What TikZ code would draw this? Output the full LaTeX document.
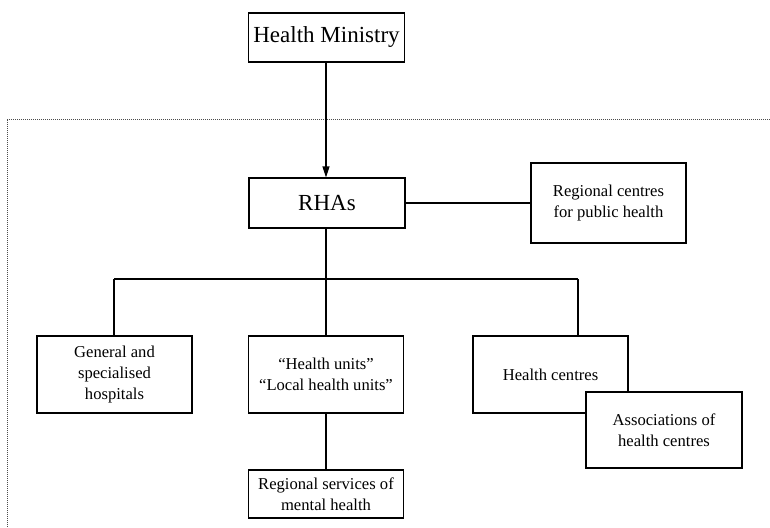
\documentclass[tikz,border=0pt]{standalone}
\usepackage{fontspec}
\setmainfont{Liberation Serif}
\usetikzlibrary{arrows.meta}
\begin{document}
\begin{tikzpicture}[x=1pt,y=-1pt,
  bigbox/.style={draw,line width=1.1pt,fill=white,minimum width=156pt,inner sep=0pt,font=\fontsize{23}{26}\selectfont},
  smallbox/.style={draw,line width=1.1pt,fill=white,minimum width=155pt,inner sep=0pt,align=center,font=\fontsize{16.6}{21}\selectfont},
  link/.style={line width=1.1pt},
  frameline/.style={line width=0.6pt,dash pattern=on 1.2pt off 0.8pt,black!70}]
\path[use as bounding box] (0,0) rectangle (770,527);
% frame (dotted)
\coordinate (fl) at (7,119);
\coordinate (fr) at (770,119);
\coordinate (fb) at (7,527);
\draw[frameline] (fr) -- (fl) -- (fb);
% nodes
\node[bigbox,minimum height=49pt] (hm) at (326.5,37.5) {Health Ministry};
\node[bigbox,minimum height=50pt] (rhas) at (327,203) {RHAs};
\node[smallbox,minimum height=80pt] (rc) at (608.5,203) {Regional centres\\for public health};
\node[smallbox,minimum height=77pt] (gen) at (114.5,374.5) {General and\\specialised\\hospitals};
\node[smallbox,minimum height=77pt] (hu) at (326,374.5) {“Health units”\\“Local health units”};
\node[smallbox,minimum height=77pt] (hc) at (550.5,374.5) {Health centres};
\node[smallbox,minimum height=76pt,minimum width=156pt] (as) at (664,430) {Associations of\\health centres};
\node[smallbox,minimum height=48pt] (rs) at (326,494) {Regional services of\\mental health};
% connectors
\coordinate (jl) at (114,279);
\coordinate (jm) at (326,279);
\coordinate (jr) at (578,279);
\draw[link,-{Triangle[length=11pt,width=7pt]}] (hm.south -| 326,0) -- (rhas.north -| 326,0);
\draw[link] (rhas.east) -- (rc.west);
\draw[link] (rhas.south -| jm) -- (jm);
\draw[link] (jl) -- (jr);
\draw[link] (jl) -- (gen.north -| jl);
\draw[link] (jm) -- (hu.north);
\draw[link] (jr) -- (hc.north -| jr);
\draw[link] (hu.south) -- (rs.north);
\end{tikzpicture}
\end{document}
